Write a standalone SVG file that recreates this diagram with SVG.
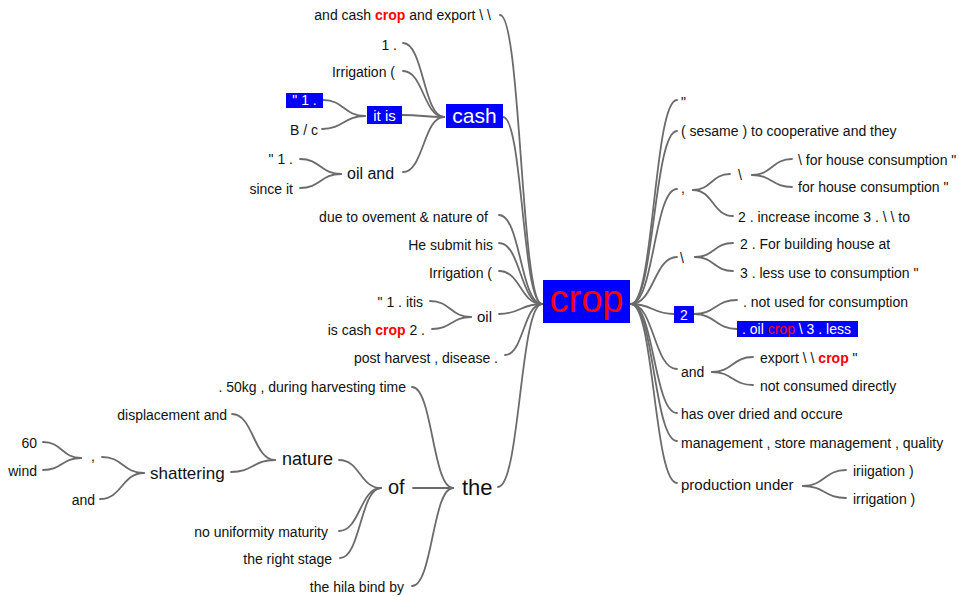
<svg xmlns="http://www.w3.org/2000/svg" width="962" height="597" viewBox="0 0 962 597">
<style>
text{font-family:"Liberation Sans",Arial,sans-serif;fill:#111;font-size:14px}
.e{text-anchor:end}
.m{text-anchor:middle}
.w{fill:#fff}
.r{fill:#f00;font-weight:bold}
.rn{fill:#f00}
.box{fill:#0000ff}
.c path{fill:none;stroke:#6b6b6b;stroke-width:1.8;stroke-linecap:round}
</style>
<rect width="962" height="597" fill="#fff"/>
<g class="c" id="connectors">
<path d="M500,15 C521,15 521,304 542,304"/>
<path d="M503,117 C522.5,117 522.5,304 542,304"/>
<path d="M499,215 C520.5,215 520.5,304 542,304"/>
<path d="M499,243 C520.5,243 520.5,304 542,304"/>
<path d="M499,271 C520.5,271 520.5,304 542,304"/>
<path d="M499,314 C520.5,314 520.5,304 542,304"/>
<path d="M505,355 C523.5,355 523.5,304 542,304"/>
<path d="M498,487 C520,487 520,304 542,304"/>
<path d="M403,43 C423.5,43 423.5,117 444,117"/>
<path d="M403,71 C423.5,71 423.5,117 444,117"/>
<path d="M402,115 C423,115 423,117 444,117"/>
<path d="M403,172 C423.5,172 423.5,117 444,117"/>
<path d="M323,100 C344,100 344,116 365,116"/>
<path d="M322,129 C343.5,129 343.5,116 365,116"/>
<path d="M300,159 C320.5,159 320.5,174 341,174"/>
<path d="M300,188 C320.5,188 320.5,174 341,174"/>
<path d="M430,301 C450.5,301 450.5,317 471,317"/>
<path d="M432,329 C451.5,329 451.5,317 471,317"/>
<path d="M412,387 C432.5,387 432.5,488 453,488"/>
<path d="M413,488 L453,488"/>
<path d="M412,586 C432.5,586 432.5,488 453,488"/>
<path d="M339,460 C360,460 360,488 381,488"/>
<path d="M339,531 C360,531 360,488 381,488"/>
<path d="M340,558 C360.5,558 360.5,488 381,488"/>
<path d="M232,414 C253.5,414 253.5,460 275,460"/>
<path d="M231,472 C253,472 253,460 275,460"/>
<path d="M102,457 C123,457 123,473 144,473"/>
<path d="M100,499 C122,499 122,473 144,473"/>
<path d="M43,442 C62,442 62,458 81,458"/>
<path d="M43,470 C62,470 62,458 81,458"/>
<path d="M631,304 C654,304 654,100 677,100"/>
<path d="M631,304 C654,304 654,131 677,131"/>
<path d="M631,304 C654,304 654,189 677,189"/>
<path d="M631,304 C654,304 654,257 677,257"/>
<path d="M631,304 C652.5,304 652.5,314 674,314"/>
<path d="M631,304 C654,304 654,369 677,369"/>
<path d="M631,304 C654,304 654,413 677,413"/>
<path d="M631,304 C654,304 654,441 677,441"/>
<path d="M631,304 C654,304 654,483 677,483"/>
<path d="M693,190 C711.5,190 711.5,174 730,174"/>
<path d="M693,190 C713,190 713,216 733,216"/>
<path d="M752,175 C772,175 772,159 792,159"/>
<path d="M752,175 C772,175 772,187 792,187"/>
<path d="M695,257 C714,257 714,243 733,243"/>
<path d="M695,257 C714,257 714,271 733,271"/>
<path d="M694,314 C715.5,314 715.5,300 737,300"/>
<path d="M694,314 C715.5,314 715.5,329 737,329"/>
<path d="M712,372 C732.5,372 732.5,357 753,357"/>
<path d="M712,372 C732.5,372 732.5,385 753,385"/>
<path d="M803,486 C824.5,486 824.5,470 846,470"/>
<path d="M803,486 C824.5,486 824.5,498 846,498"/>
</g>
<g id="n-crop"><rect class="box" x="543" y="280" width="87" height="43"/><text class="m rn" x="586.5" y="312" style="font-size:38px">crop</text></g>
<g id="n-export"><text class="e" x="491" y="20">and cash <tspan class="r">crop</tspan> and export \ \</text></g>
<g id="n-cash"><rect class="box" x="446" y="104" width="57" height="24"/><text class="m w" x="474.5" y="123" style="font-size:21px">cash</text></g>
<g id="n-1"><text class="e" x="397" y="50">1 .</text></g>
<g id="n-irr1"><text class="e" x="395" y="77">Irrigation (</text></g>
<g id="n-itis"><rect class="box" x="367" y="106" width="35" height="18"/><text class="m w" x="384.5" y="121" style="font-size:15px">it is</text></g>
<g id="n-q1a"><rect class="box" x="286" y="93" width="37" height="15"/><text class="m w" x="304.5" y="105">" 1 .</text></g>
<g id="n-bc"><text class="e" x="318" y="135">B / c</text></g>
<g id="n-oiland"><text x="347" y="179" style="font-size:16px">oil and</text></g>
<g id="n-q1b"><text class="e" x="293" y="164">" 1 .</text></g>
<g id="n-since"><text class="e" x="293" y="194">since it</text></g>
<g id="n-due"><text class="e" x="488" y="222">due to ovement &amp; nature of</text></g>
<g id="n-submit"><text class="e" x="493" y="250">He submit his</text></g>
<g id="n-irr2"><text class="e" x="492" y="278">Irrigation (</text></g>
<g id="n-oil"><text x="477" y="322" style="font-size:15px">oil</text></g>
<g id="n-itis2"><text class="e" x="423" y="307">" 1 . itis</text></g>
<g id="n-iscash"><text class="e" x="425" y="335">is cash <tspan class="r">crop</tspan> 2 .</text></g>
<g id="n-post"><text class="e" x="498" y="363">post harvest , disease .</text></g>
<g id="n-the"><text x="462" y="495" style="font-size:22px">the</text></g>
<g id="n-50kg"><text class="e" x="406" y="392">. 50kg , during harvesting time</text></g>
<g id="n-of"><text x="388" y="494" style="font-size:20px">of</text></g>
<g id="n-hila"><text class="e" x="404" y="592">the hila bind by</text></g>
<g id="n-nature"><text x="282" y="465" style="font-size:18px">nature</text></g>
<g id="n-unif"><text class="e" x="328" y="537">no uniformity maturity</text></g>
<g id="n-stage"><text class="e" x="332" y="564">the right stage</text></g>
<g id="n-displ"><text class="e" x="227" y="420">displacement and</text></g>
<g id="n-shatter"><text x="150" y="479" style="font-size:17px">shattering</text></g>
<g id="n-comma1"><text x="91" y="461">,</text></g>
<g id="n-and1"><text class="e" x="95" y="505">and</text></g>
<g id="n-60"><text class="e" x="37" y="448">60</text></g>
<g id="n-wind"><text class="e" x="37" y="476">wind</text></g>
<g id="n-quote"><text x="681" y="107">"</text></g>
<g id="n-sesame"><text x="681" y="136">( sesame ) to cooperative and they</text></g>
<g id="n-comma2"><text x="681" y="193">,</text></g>
<g id="n-bs1"><text x="738" y="180">\</text></g>
<g id="n-house1"><text x="798" y="165">\ for house consumption "</text></g>
<g id="n-house2"><text x="798" y="192">for house consumption "</text></g>
<g id="n-income"><text x="738" y="222">2 . increase income 3 . \ \ to</text></g>
<g id="n-bs2"><text x="680" y="263">\</text></g>
<g id="n-build"><text x="740" y="249">2 . For building house at</text></g>
<g id="n-less"><text x="740" y="278">3 . less use to consumption "</text></g>
<g id="n-2"><rect class="box" x="674" y="306" width="20" height="17"/><text class="m w" x="684" y="320">2</text></g>
<g id="n-notused"><text x="743" y="307">. not used for consumption</text></g>
<g id="n-oilcrop"><rect class="box" x="737" y="321" width="121" height="16"/><text class="w" x="742" y="334">. oil <tspan class="rn">crop</tspan> \ 3 . less</text></g>
<g id="n-and2"><text x="681" y="377">and</text></g>
<g id="n-export2"><text x="760" y="363">export \ \ <tspan class="r">crop</tspan> "</text></g>
<g id="n-notcons"><text x="760" y="391">not consumed directly</text></g>
<g id="n-dried"><text x="681" y="419">has over dried and occure</text></g>
<g id="n-mgmt"><text x="681" y="448">management , store management , quality</text></g>
<g id="n-prod"><text x="681" y="490" style="font-size:15px">production under</text></g>
<g id="n-iriig"><text x="853" y="476">iriigation )</text></g>
<g id="n-irrig"><text x="853" y="504">irrigation )</text></g>
</svg>
